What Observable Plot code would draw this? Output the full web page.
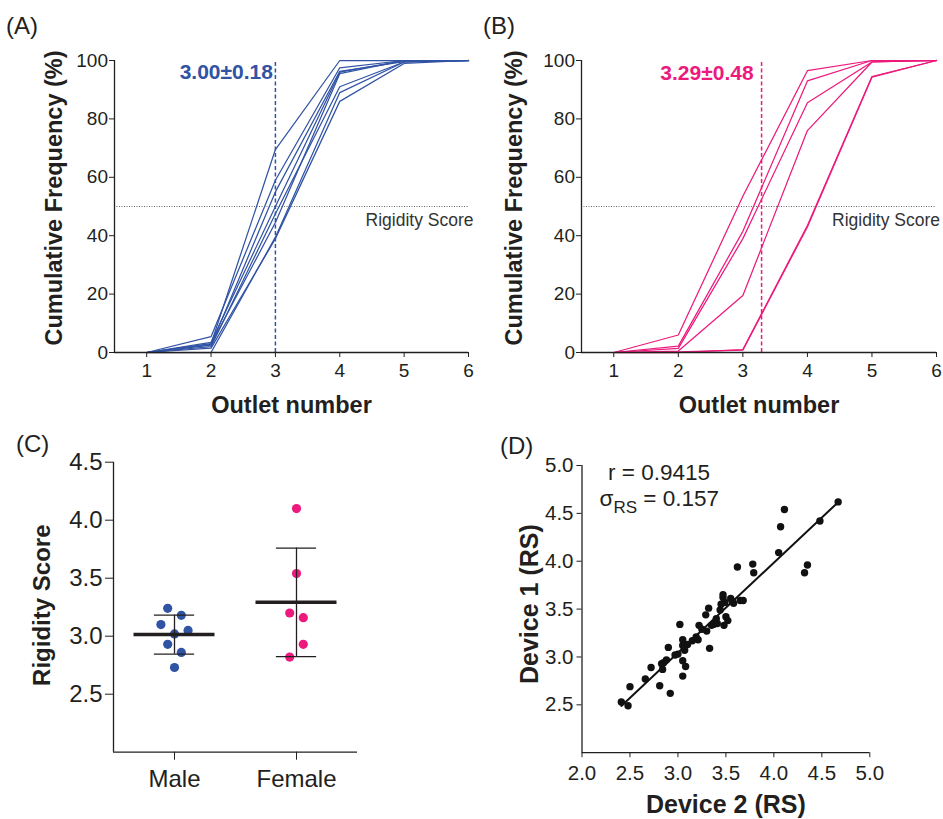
<!DOCTYPE html>
<html>
<head>
<meta charset="utf-8">
<script src="https://cdn.jsdelivr.net/npm/d3@7"></script>
<script src="https://cdn.jsdelivr.net/npm/@observablehq/plot@0.6"></script>
<style>
  body { margin: 0; background: #fff; }
  #root { position: relative; width: 943px; height: 819px; font-family: "Liberation Sans", Arial, Helvetica, sans-serif; color: #231f20; }
  .panel { position: absolute; }
  .tag { position: absolute; font-size: 24px; line-height: 1; color: #231f20; }
</style>
</head>
<body>
<div id="root"></div>
<script>
// ---------------- DATA ----------------
const outlets = [1, 2, 3, 4, 5, 6];
const cdfTicks = [0, 20, 40, 60, 80, 100];

// Panel A: cumulative frequency (%) per outlet, male subjects
const maleCurves = [
  [0, 3.0, 69.5, 100, 100, 100],
  [0, 5.4, 59.0, 97.5, 100, 100],
  [0, 2.5, 55.0, 96.3, 99.6, 100],
  [0, 3.5, 50.0, 96.0, 100, 100],
  [0, 2.0, 47.5, 91.0, 99.5, 100],
  [0, 2.8, 44.5, 95.5, 100, 100],
  [0, 0.0, 39.5, 89.0, 99.5, 100],
  [0, 1.5, 39.0, 86.0, 99.0, 100]
];
// Panel B: female subjects
const femaleCurves = [
  [0, 6.0, 53.5, 96.5, 100, 100],
  [0, 2.2, 41.5, 93.0, 100, 100],
  [0, 1.4, 39.0, 85.5, 99.5, 100],
  [0, 0.5, 19.5, 76.0, 99.5, 100],
  [0, 0.0, 1.0, 43.5, 94.5, 100],
  [0, 0.2, 0.8, 43.0, 94.3, 100]
];
const maleSummary = { mean: 3.00, sd: 0.18 };
const femaleSummary = { mean: 3.29, sd: 0.48 };

// Panel C: rigidity scores by sex (jitter column index)
const groups = ["Male", "Female"];
const maleRS = [3.24, 3.18, 3.10, 3.05, 3.02, 2.93, 2.86, 2.73];
const maleJitter = [-1, 1, -2, 2, 0, -1, 1, 0];
const femaleRS = [4.10, 3.54, 3.20, 3.16, 2.93, 2.82];
const femaleJitter = [0, 0, -1, 1, 1, -1];
const rsTicks = [2.5, 3.0, 3.5, 4.0, 4.5];

// Panel D: device agreement
const device2 = [2.41, 2.48, 2.50, 2.66, 2.72, 2.81, 2.84, 2.85, 2.88, 2.90, 2.92, 3.00, 3.02, 3.05, 3.05, 3.05, 3.05, 3.07, 3.08, 3.15,
                 3.19, 3.21, 3.22, 3.29, 3.32, 3.30, 3.33, 3.37, 3.41, 3.44, 3.47, 3.47, 3.48, 3.49, 3.50, 3.52, 3.57, 3.58, 3.62, 3.65,
                 3.68, 3.78, 3.79, 4.05, 4.07, 4.11, 4.32, 4.35, 4.48, 4.67, 2.97, 3.10, 3.25, 3.40, 3.45, 3.55, 2.83, 3.35];
const device1 = [2.53, 2.49, 2.69, 2.77, 2.89, 2.70, 2.87, 2.94, 2.97, 3.10, 2.62, 3.03, 3.34, 3.18, 3.12, 2.96, 2.80, 3.07, 2.90, 3.17,
                 3.21, 3.18, 3.33, 3.44, 3.51, 3.27, 3.09, 3.34, 3.35, 3.49, 3.62, 3.65, 3.33, 3.57, 3.42, 3.38, 3.58, 3.56, 3.94, 3.59,
                 3.59, 3.97, 3.88, 4.09, 4.36, 4.54, 3.88, 3.96, 4.42, 4.62, 3.02, 3.13, 3.29, 3.40, 3.55, 3.61, 2.93, 3.33];
const devTicksX = [2.0, 2.5, 3.0, 3.5, 4.0, 4.5, 5.0];
const devTicksY = [2.5, 3.0, 3.5, 4.0, 4.5, 5.0];
const rValue = 0.9415;
const sigmaRS = 0.157;

// ---------------- STYLE ----------------
const FONT = '"Liberation Sans", Arial, Helvetica, sans-serif';
const INK = "#231f20";
const BLUE = "#3153a4";
const PINK = "#ec1a7d";

const root = document.getElementById("root");
function place(node, left, top) {
  node.classList.add("panel");
  node.style.left = left + "px";
  node.style.top = top + "px";
  root.appendChild(node);
}
function tag(text, left, top) {
  const d = document.createElement("div");
  d.className = "tag";
  d.textContent = text;
  d.style.left = left + "px";
  d.style.top = top + "px";
  root.appendChild(d);
}

function cdfPanel(curves, color, summary, o) {
  const data = curves.flatMap((c, i) => c.map((v, j) => ({ id: i, outlet: outlets[j], freq: v })));
  const label = `${summary.mean.toFixed(2)}±${summary.sd.toFixed(2)}`;
  return Plot.plot({
    width: o.width, height: 430,
    marginLeft: o.ml, marginRight: o.mr, marginTop: 60, marginBottom: 78,
    style: { fontFamily: FONT, fontSize: "19px", color: INK, background: "transparent", overflow: "visible" },
    x: { domain: [0.5, 6], ticks: outlets, tickFormat: "d", tickSize: 5, tickPadding: 6, label: null },
    y: { domain: [0, 100], ticks: cdfTicks, tickFormat: "d", tickSize: 5, tickPadding: 1.5, label: null },
    marks: [
      Plot.ruleY([50], { x1: 0.5, x2: 6, stroke: "#555", strokeWidth: 0.9, strokeDasharray: "1,1.5" }),
      Plot.text(["Rigidity Score"], { x: 6, y: 50, text: d => d, textAnchor: "end", lineAnchor: "middle", dx: o.rsDx, dy: 14, fontSize: 17.5, fill: "#333" }),
      Plot.line(data, { x: "outlet", y: "freq", z: "id", stroke: color, strokeWidth: 1.25 }),
      Plot.ruleX([summary.mean], { y1: 0, y2: 100, stroke: color, strokeWidth: 1.5, strokeDasharray: "4,2.5" }),
      Plot.text([label], { x: summary.mean, text: d => d, frameAnchor: "top", dy: o.labDy, dx: o.labDx, textAnchor: "end", lineAnchor: "middle", fontSize: 21, fontWeight: "bold", fill: color }),
      Plot.ruleX([0.5], { y1: 0, y2: 100, stroke: INK, strokeWidth: 1.3 }),
      Plot.ruleY([0], { x1: 0.5, x2: 6, stroke: INK, strokeWidth: 1.3 }),
      Plot.text(["Outlet number"], { text: d => d, frameAnchor: "bottom", dy: 53, textAnchor: "middle", lineAnchor: "middle", fontSize: 23.5, fontWeight: "bold", fill: INK }),
      Plot.text(["Cumulative Frequency (%)"], { text: d => d, frameAnchor: "left", dx: o.yDx, dy: -8.5, rotate: -90, textAnchor: "middle", lineAnchor: "middle", fontSize: 23.5, fontWeight: "bold", fill: INK })
    ]
  });
}

// Panel A
place(cdfPanel(maleCurves, BLUE, maleSummary, { width: 480, ml: 114, mr: 12, rsDx: 5, labDy: 12, labDx: -2.5, yDx: -60 }), 0, 0);
// Panel B
place(cdfPanel(femaleCurves, PINK, femaleSummary, { width: 473, ml: 111, mr: 7, rsDx: 3.5, labDy: 13, labDx: -8, yDx: -67 }), 470, 0);

// Panel C
const SLOT = 0.0557;
const cData = [
  ...maleRS.map((v, i) => ({ g: 1, v, j: maleJitter[i] })),
  ...femaleRS.map((v, i) => ({ g: 2, v, j: femaleJitter[i] }))
];
const cStats = [maleRS, femaleRS].map((vals, i) => ({ g: i + 1, mean: d3.mean(vals), sd: d3.deviation(vals) }));
const plotC = Plot.plot({
  width: 470, height: 389,
  marginLeft: 113, marginRight: 113, marginTop: 31.7, marginBottom: 67.3,
  style: { fontFamily: FONT, fontSize: "24px", color: INK, background: "transparent", overflow: "visible" },
  x: { domain: [0.5, 2.5], ticks: [1, 2], tickFormat: d => groups[d - 1], tickSize: 8, tickPadding: 10, label: null },
  y: { domain: [2, 4.5], ticks: rsTicks, tickFormat: ".1f", tickSize: 8, tickPadding: 3, label: null },
  marks: [
    Plot.dot(cData.filter(d => d.g === 1), { x: d => d.g + d.j * SLOT, y: "v", r: 4.6, fill: BLUE, stroke: "none" }),
    Plot.dot(cData.filter(d => d.g === 2), { x: d => d.g + d.j * SLOT, y: "v", r: 4.6, fill: PINK, stroke: "none" }),
    Plot.ruleX(cStats, { x: "g", y1: d => d.mean - d.sd, y2: d => d.mean + d.sd, stroke: INK, strokeWidth: 1.3 }),
    Plot.ruleY(cStats, { y: d => d.mean + d.sd, x1: d => d.g - 0.165, x2: d => d.g + 0.165, stroke: INK, strokeWidth: 1.3 }),
    Plot.ruleY(cStats, { y: d => d.mean - d.sd, x1: d => d.g - 0.165, x2: d => d.g + 0.165, stroke: INK, strokeWidth: 1.3 }),
    Plot.ruleY(cStats, { y: "mean", x1: d => d.g - 0.332, x2: d => d.g + 0.332, stroke: INK, strokeWidth: 3.5 }),
    Plot.ruleX([0.5], { y1: 2, y2: 4.5, stroke: INK, strokeWidth: 1.3 }),
    Plot.ruleY([2], { x1: 0.5, x2: 2.5, stroke: INK, strokeWidth: 1.3 }),
    Plot.text(["Rigidity Score"], { text: d => d, frameAnchor: "left", dx: -71, dy: -2, rotate: -90, textAnchor: "middle", lineAnchor: "middle", fontSize: 24, fontWeight: "bold", fill: INK })
  ]
});
place(plotC, 0, 430);

// Panel D
const dData = device2.map((x, i) => ({ x, y: device1[i] }));
const plotD = Plot.plot({
  width: 473, height: 389,
  marginLeft: 111.5, marginRight: 73.7, marginTop: 35, marginBottom: 66.8,
  style: { fontFamily: FONT, fontSize: "20.5px", color: INK, background: "transparent", overflow: "visible" },
  x: { domain: [2, 5], ticks: devTicksX, tickFormat: ".1f", tickSize: 5, tickPadding: 8, label: null },
  y: { domain: [2, 5], ticks: devTicksY, tickFormat: ".1f", tickSize: 5, tickPadding: 3.5, label: null },
  marks: [
    Plot.linearRegressionY(dData, { x: "x", y: "y", stroke: "#111", strokeWidth: 2, ci: 0 }),
    Plot.dot(dData, { x: "x", y: "y", r: 3.7, fill: "#111", stroke: "none" }),
    Plot.ruleX([2], { y1: 2, y2: 5, stroke: INK, strokeWidth: 1.3 }),
    Plot.ruleY([2], { x1: 2, x2: 5, stroke: INK, strokeWidth: 1.3 }),
    Plot.text(["Device 2 (RS)"], { text: d => d, frameAnchor: "bottom", dy: 52, textAnchor: "middle", lineAnchor: "middle", fontSize: 25, fontWeight: "bold", fill: INK }),
    Plot.text(["Device 1 (RS)"], { text: d => d, frameAnchor: "left", dx: -52.5, dy: -5, rotate: -90, textAnchor: "middle", lineAnchor: "middle", fontSize: 25, fontWeight: "bold", fill: INK })
  ]
});
// statistics annotation (r and sigma with subscript)
{
  const svg = d3.select(plotD);
  svg.append("text")
    .attr("x", 138).attr("y", 50)
    .attr("text-anchor", "start")
    .attr("font-size", 22.5).attr("fill", INK).attr("font-family", FONT)
    .text(`r = ${rValue}`);
  const t = svg.append("text")
    .attr("x", 129.5).attr("y", 76)
    .attr("text-anchor", "start")
    .attr("font-size", 22.5).attr("fill", INK).attr("font-family", FONT);
  t.append("tspan").text("σ");
  t.append("tspan").attr("font-size", 17).attr("dy", 7).text("RS");
  t.append("tspan").attr("dy", -7).text(` = ${sigmaRS}`);
}
place(plotD, 470, 430);

// Panel tags
tag("(A)", 6, 14);
tag("(B)", 483, 14);
tag("(C)", 16, 432);
tag("(D)", 500, 434);
</script>
</body>
</html>
